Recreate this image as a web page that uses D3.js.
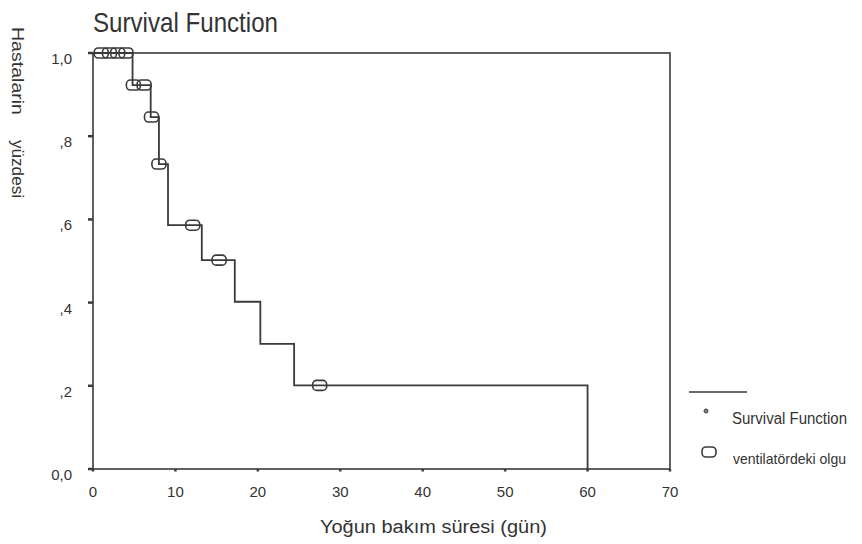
<!DOCTYPE html>
<html lang="tr">
<head>
<meta charset="utf-8">
<title>Survival Function</title>
<script src="https://cdn.jsdelivr.net/npm/d3@7"></script>
<style>
  body { margin: 0; background: #fff; }
  text { font-family: "Liberation Sans", Arial, sans-serif; fill: #333; }
</style>
</head>
<body>
<script>
// step points of the Kaplan-Meier curve (time in days, survival share)
var stepTimes = [0, 4.8, 7, 8, 9.1, 13.2, 17.2, 20.3, 24.4, 60];
var stepSurv  = [1.0, 0.923, 0.846, 0.733, 0.586, 0.502, 0.402, 0.301, 0.201, 0];

// censored cases (ventilatördeki olgu)
var censTimes = [1, 2, 3, 4, 4.9, 6.2, 7.1, 8, 12.1, 15.3, 27.5];
var censSurv  = [1.0, 1.0, 1.0, 1.0, 0.923, 0.923, 0.846, 0.733, 0.586, 0.502, 0.201];

var xTicks = [0, 10, 20, 30, 40, 50, 60, 70];
var yTicks = [0, 0.2, 0.4, 0.6, 0.8, 1.0];
var yTickLabels = ["0,0", ",2", ",4", ",6", ",8", "1,0"];

var w = 862, h = 544;
var ink = "#3a3a3a";

var svg = d3.select("body").append("svg")
  .attr("width", w)
  .attr("height", h);

var x = d3.scaleLinear().domain([0, 70]).range([93, 670]);
var y = d3.scaleLinear().domain([0, 1]).range([469, 53]);

// frame
svg.append("rect")
  .attr("x", x(0)).attr("y", y(1))
  .attr("width", x(70) - x(0)).attr("height", y(0) - y(1))
  .attr("fill", "none").attr("stroke", ink).attr("stroke-width", 1.6);

// y ticks + labels
svg.selectAll(".ytick")
  .data(yTicks)
  .enter()
  .append("line")
  .attr("x1", x(0) - 5).attr("x2", x(0))
  .attr("y1", function(d) { return y(d); })
  .attr("y2", function(d) { return y(d); })
  .attr("stroke", ink).attr("stroke-width", 2.5);

svg.selectAll(".ylab")
  .data(yTicks)
  .enter()
  .append("text")
  .attr("text-anchor", "end")
  .attr("x", 72)
  .attr("y", function(d) { return y(d) + 11; })
  .style("font-size", "15px")
  .text(function(d, i) { return yTickLabels[i]; });

// x ticks + labels
svg.selectAll(".xtick")
  .data(xTicks)
  .enter()
  .append("line")
  .attr("x1", function(d) { return x(d); })
  .attr("x2", function(d) { return x(d); })
  .attr("y1", y(0)).attr("y2", y(0) + 2.5)
  .attr("stroke", ink).attr("stroke-width", 2.5);

svg.selectAll(".xlab")
  .data(xTicks)
  .enter()
  .append("text")
  .attr("text-anchor", "middle")
  .attr("x", function(d) { return x(d); })
  .attr("y", 497)
  .style("font-size", "15px")
  .text(function(d) { return d; });

// survival step line
var pts = stepTimes.map(function(t, i) { return [t, stepSurv[i]]; });
var line = d3.line()
  .x(function(d) { return x(d[0]); })
  .y(function(d) { return y(d[1]); })
  .curve(d3.curveStepAfter);

svg.append("path")
  .attr("d", line(pts))
  .attr("fill", "none")
  .attr("stroke", ink)
  .attr("stroke-width", 1.8);

// censored marks
svg.selectAll(".cens")
  .data(censTimes)
  .enter()
  .append("rect")
  .attr("x", function(d) { return x(d) - 7; })
  .attr("y", function(d, i) { return y(censSurv[i]) - 5; })
  .attr("width", 14).attr("height", 10)
  .attr("rx", 4).attr("ry", 4)
  .attr("fill", "none")
  .attr("stroke", ink).attr("stroke-width", 1.6);

// title
svg.append("text")
  .attr("x", 93).attr("y", 32)
  .attr("textLength", 185).attr("lengthAdjust", "spacingAndGlyphs")
  .style("font-size", "28px")
  .text("Survival Function");

// axis titles
svg.append("text")
  .attr("x", 320).attr("y", 533)
  .attr("textLength", 227).attr("lengthAdjust", "spacingAndGlyphs")
  .style("font-size", "18px")
  .text("Yoğun bakım süresi (gün)");

svg.append("text")
  .attr("transform", "translate(12,27) rotate(90)")
  .attr("textLength", 88).attr("lengthAdjust", "spacingAndGlyphs")
  .style("font-size", "17px")
  .text("Hastalarin");

svg.append("text")
  .attr("transform", "translate(12,140) rotate(90)")
  .attr("textLength", 58).attr("lengthAdjust", "spacingAndGlyphs")
  .style("font-size", "17px")
  .text("yüzdesi");

// legend
var lg = svg.append("g");
lg.append("line")
  .attr("x1", 689).attr("x2", 747)
  .attr("y1", 392).attr("y2", 392)
  .attr("stroke", ink).attr("stroke-width", 1.4);

lg.append("circle")
  .attr("cx", 706).attr("cy", 411)
  .attr("r", 2)
  .attr("fill", "#888").attr("stroke", ink).attr("stroke-width", 1);

lg.append("text")
  .attr("x", 732).attr("y", 424)
  .attr("textLength", 115).attr("lengthAdjust", "spacingAndGlyphs")
  .style("font-size", "16px")
  .text("Survival Function");

lg.append("rect")
  .attr("x", 702).attr("y", 447)
  .attr("width", 14).attr("height", 10)
  .attr("rx", 4).attr("ry", 4)
  .attr("fill", "none")
  .attr("stroke", ink).attr("stroke-width", 1.6);

lg.append("text")
  .attr("x", 733).attr("y", 464)
  .attr("textLength", 113).attr("lengthAdjust", "spacingAndGlyphs")
  .style("font-size", "15px")
  .text("ventilatördeki olgu");
</script>
</body>
</html>
